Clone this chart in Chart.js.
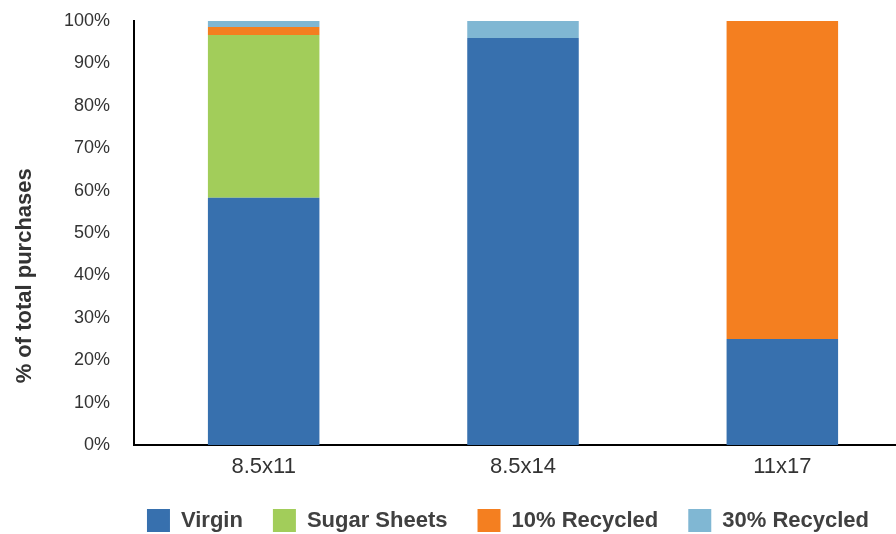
<!DOCTYPE html>
<html lang="en">
<head>
  <meta charset="UTF-8" />
  <title>% of total purchases</title>
  <script src="https://cdn.jsdelivr.net/npm/chart.js"></script>
  <style>
    html, body { margin: 0; padding: 0; overflow: hidden; background: #fff; }
    canvas { display: block; }
  </style>
</head>
<body>
  <canvas id="grafico" width="912" height="534"></canvas>

  <script>
    // dados (percentual do total de compras)
    const categorias = ['8.5x11', '8.5x14', '11x17'];
    const virgin = [58.3, 96, 25];
    const sugarSheets = [38.4, 0, 0];
    const recycled10 = [1.9, 0, 75];
    const recycled30 = [1.4, 4, 0];

    const cores = ['#3770ae', '#a2cd5a', '#f47f20', '#80b7d3'];

    // coloca a legenda na mesma posicao do original
    const moveLegenda = {
      id: 'moveLegenda',
      afterLayout(chart) {
        const leg = chart.legend;
        leg.left += 52;
        leg.right += 52;
        leg.top = 479;
        leg.bottom = 534;
      }
    };

    const ctx = document.getElementById('grafico').getContext('2d');
    new Chart(ctx, {
      type: 'bar',
      data: {
        labels: categorias,
        datasets: [
          { label: 'Virgin', data: virgin, backgroundColor: cores[0] },
          { label: 'Sugar Sheets', data: sugarSheets, backgroundColor: cores[1] },
          { label: '10% Recycled', data: recycled10, backgroundColor: cores[2] },
          { label: '30% Recycled', data: recycled30, backgroundColor: cores[3] }
        ]
      },
      options: {
        responsive: false,
        animation: false,
        datasets: { bar: { barPercentage: 0.43, categoryPercentage: 1 } },
        layout: { padding: { top: 21, left: 0, right: 0, bottom: 0 } },
        plugins: {
          legend: {
            position: 'bottom',
            maxHeight: 55,
            labels: {
              boxWidth: 23,
              boxHeight: 23,
              padding: 30,
              color: '#404040',
              font: { family: 'Liberation Sans', size: 22, weight: 'bold' }
            }
          },
          tooltip: { enabled: false }
        },
        scales: {
          x: {
            stacked: true,
            grid: { display: false, tickLength: 0 },
            border: { display: true, color: '#000', width: 2 },
            ticks: {
              padding: 9,
              color: '#333',
              font: { family: 'Liberation Sans', size: 22 }
            },
            afterFit(scale) { scale.height = 34; }
          },
          y: {
            stacked: true,
            min: 0,
            max: 100,
            grid: { display: false, tickLength: 24 },
            border: { display: true, color: '#000', width: 2 },
            ticks: {
              stepSize: 10,
              padding: 0,
              color: '#333',
              font: { family: 'Liberation Sans', size: 18 },
              callback: v => v + '%'
            },
            title: {
              display: true,
              text: '% of total purchases' + ' '.repeat(14),
              color: '#333',
              padding: { top: 12, bottom: 0 },
              font: { family: 'Liberation Sans', size: 22, weight: 'bold' }
            },
            afterFit(scale) { scale.width = 134; }
          }
        }
      },
      plugins: [moveLegenda]
    });
  </script>
</body>
</html>
